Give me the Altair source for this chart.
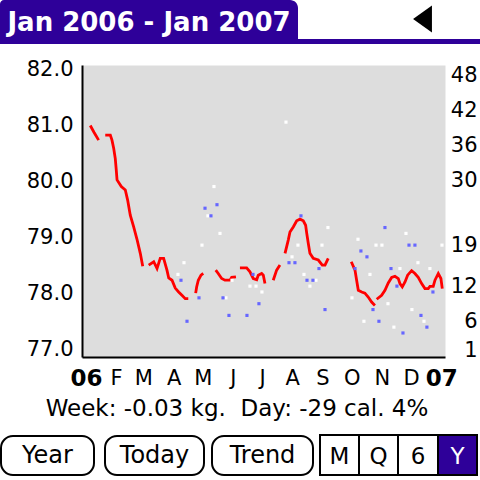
import altair as alt
import pandas as pd

FONT = "DejaVu Sans"
PURPLE = "#2E0099"
RED = "#FF0000"
BLUE = "#6666FF"
GRAY = "#DDDDDD"

# ---- weight trend (kg) by day of 2006, one list per unbroken run ----
run_days = [
    [4.4, 8.2, 13.0],
    [19.8, 25.0, 26.7, 28.5, 30.1, 31.1, 31.9, 36.3, 40.4, 42.8, 45.5, 49.0, 52.4, 55.8, 58.3],
    [64.4, 69.6, 73.0, 76.3, 79.8, 83.2, 85.0, 88.4, 91.7, 95.2, 98.6, 102.0, 105.1],
    [112.7, 113.7, 115.4, 118.2, 120.5],
    [133.3, 135.9, 139.4, 142.8, 148.0, 149.7, 154.1],
    [158.2, 165.1, 168.5, 171.9, 175.4, 177.0, 180.5, 182.2, 183.9],
    [192.4, 195.9, 199.3],
    [204.5, 207.9, 209.6, 213.0, 216.5, 219.9, 223.3, 225.7, 226.8, 228.4, 230.1, 233.5, 238.7, 242.8, 245.6, 248.9],
    [272.6, 276.4, 278.1, 279.8, 283.3, 286.6, 290.0, 293.5, 296.9],
    [298.7, 303.8, 307.2, 310.6, 314.1, 317.5, 320.9, 322.6, 325.0, 327.8, 330.5, 334.6, 338.0, 341.4,
     344.9, 348.3, 351.7, 353.4, 356.8, 358.6, 362.0, 364.7, 366.1],
]
run_kg = [
    [81.00, 80.88, 80.74],
    [80.83, 80.83, 80.74, 80.59, 80.41, 80.21, 80.03, 79.91, 79.85, 79.67, 79.40, 79.19, 78.97, 78.72, 78.49],
    [78.51, 78.57, 78.45, 78.63, 78.63, 78.42, 78.28, 78.24, 78.10, 78.03, 77.97, 77.91, 77.91],
    [78.01, 78.12, 78.24, 78.33, 78.36],
    [78.42, 78.36, 78.27, 78.24, 78.24, 78.29, 78.30],
    [78.46, 78.46, 78.39, 78.27, 78.25, 78.33, 78.36, 78.33, 78.18],
    [78.24, 78.42, 78.51],
    [78.72, 78.96, 79.10, 79.19, 79.30, 79.33, 79.30, 79.22, 79.08, 78.90, 78.72, 78.63, 78.60, 78.51, 78.51, 78.63],
    [78.57, 78.42, 78.24, 78.06, 78.03, 78.01, 77.94, 77.85, 77.79],
    [77.90, 77.97, 78.06, 78.19, 78.29, 78.31, 78.27, 78.18, 78.12, 78.21, 78.33, 78.41, 78.36, 78.29,
     78.18, 78.09, 78.09, 78.13, 78.13, 78.24, 78.36, 78.27, 78.09],
]

# ---- daily readings on the right-hand scale ----
white_day = [94.5, 100.7, 119.2, 125.3, 131.5, 137.7, 143.8, 150.0, 168.5, 174.7, 180.8, 205.5, 211.7,
             217.8, 224.0, 230.1, 236.3, 242.5, 248.6, 273.3, 279.5, 285.6, 291.8, 298.0, 304.1, 310.3,
             316.4, 322.6, 328.8, 334.9, 341.1, 347.3, 353.4, 365.8]
white_val = [14, 16, 19, 24, 29, 21, 10, 13, 12, 12, 11, 40, 17,
             19, 14, 12, 13, 19, 22, 10, 20, 6, 14, 19, 19, 9,
             5, 15, 21, 8, 16, 6, 15, 19]
blue_day = [97.6, 103.8, 116.1, 122.3, 128.4, 134.6, 140.8, 146.9, 165.4, 171.6, 177.7, 208.6, 214.7,
            220.9, 227.1, 233.2, 239.4, 245.6, 276.4, 282.5, 288.7, 294.9, 301.0, 307.2, 313.4, 319.5,
            325.7, 331.9, 338.0, 344.2, 350.3, 356.5]
blue_val = [13, 6, 10, 25.3, 24, 25.9, 10, 7, 7, 14, 9, 16, 16,
            24, 13, 13, 15, 8, 15, 18, 17, 8, 6, 22, 15, 12,
            4, 19, 19, 7, 5, 11]

# ---- axis labels ----
month_days = [0, 31, 59, 90, 120, 151, 181, 212, 243, 273, 304, 334, 365]
month_names = ["06", "F", "M", "A", "M", "J", "J", "A", "S", "O", "N", "D", "07"]
kg_ticks = [77, 78, 79, 80, 81, 82]
right_ticks = [48, 42, 36, 30, 19, 12, 6, 1]

# ---- screen text ----
header_text = "Jan 2006 - Jan 2007"
status_text = "Week: -0.03 kg.\u00a0\u00a0Day: -29 cal. 4%"
button_names = ["Year", "Today", "Trend"]
range_names = ["M", "Q", "6", "Y"]

# ---------------------------------------------------------------------------
trend_df = pd.DataFrame(
    [{"day": d, "kg": k, "run": i}
     for i, (ds, ks) in enumerate(zip(run_days, run_kg))
     for d, k in zip(ds, ks)]
)
dots_df = pd.concat([
    pd.DataFrame({"day": white_day, "val": white_val, "kind": "white"}),
    pd.DataFrame({"day": blue_day, "val": blue_val, "kind": "blue"}),
])

# plot area placement on the 480x480 screen
LEFT, TOP, W, H = 82, 65, 363, 292


def sx(x):
    return x - LEFT


def sy(y):
    return y - TOP


x_scale = alt.Scale(domain=[-4.1, 368.9], nice=False, zero=False)
kg_scale = alt.Scale(domain=[76.87, 82.08], nice=False, zero=False)
val_scale = alt.Scale(domain=[-0.1, 49.75], nice=False, zero=False)

names_js = "[" + ",".join("'%s'" % m for m in month_names) + "]"
days_js = "[" + ",".join(str(d) for d in month_days) + "]"
year_test = "datum.value == 0 || datum.value == 365"


def month_axis():
    return alt.Axis(
        values=month_days,
        labelExpr=f"{names_js}[indexof({days_js}, datum.value)]",
        ticks=False, grid=False, title=None,
        domainColor="black", domainWidth=2,
        labelFont=FONT, labelColor="black", labelPadding=10,
        labelFontSize={"condition": {"test": year_test, "value": 23}, "value": 21},
        labelFontWeight={"condition": {"test": year_test, "value": "bold"}, "value": "normal"},
        labelOverlap=False, labelFlush=False, labelAngle=0, labelSeparation=0,
    )


kg_axis = alt.Axis(
    orient="left", values=kg_ticks, format=".1f",
    ticks=False, grid=False, title=None,
    domainColor="black", domainWidth=2,
    labelFont=FONT, labelFontSize=21, labelColor="black", labelPadding=9,
    labelOverlap=False, labelFlush=False,
)
val_axis = alt.Axis(
    orient="right", values=right_ticks,
    ticks=False, grid=False, domain=False, title=None,
    labelFont=FONT, labelFontSize=21, labelColor="black",
    labelAlign="right", labelPadding=32,
    labelOverlap=False, labelFlush=False,
)

line = alt.Chart(trend_df).mark_line(color=RED, strokeWidth=2.8).encode(
    x=alt.X("day:Q", scale=x_scale, axis=month_axis()),
    y=alt.Y("kg:Q", scale=kg_scale, axis=kg_axis),
    detail="run:N",
)

dots = alt.Chart(dots_df).mark_square(size=10, opacity=1).encode(
    x=alt.X("day:Q", scale=x_scale, axis=month_axis()),
    y=alt.Y("val:Q", scale=val_scale, axis=val_axis),
    color=alt.Color("kind:N", scale=alt.Scale(domain=["white", "blue"], range=["#FFFFFF", BLUE]),
                    legend=None),
)


# ---- screen furniture, placed in pixels ----
def box(x0, y0, x1, y1, **mark):
    df = pd.DataFrame({"x0": [sx(x0)], "x1": [sx(x1)], "y0": [sy(y0)], "y1": [sy(y1)]})
    return alt.Chart(df).mark_rect(**mark).encode(
        x=alt.X("x0:Q", scale=None), x2="x1:Q",
        y=alt.Y("y0:Q", scale=None), y2="y1:Q",
    )


def vline(x, y0, y1, **mark):
    df = pd.DataFrame({"x": [sx(x)], "y0": [sy(y0)], "y1": [sy(y1)]})
    return alt.Chart(df).mark_rule(**mark).encode(
        x=alt.X("x:Q", scale=None), y=alt.Y("y0:Q", scale=None), y2="y1:Q",
    )


def label(text, x, y, **mark):
    df = pd.DataFrame({"t": [text], "x": [sx(x)], "y": [sy(y)]})
    return alt.Chart(df).mark_text(**mark).encode(
        x=alt.X("x:Q", scale=None), y=alt.Y("y:Q", scale=None), text="t:N",
    )


deco = []
# header tab and rule
deco.append(box(0, 39, 480, 44, fill=PURPLE))
deco.append(box(0, 0, 298, 44, fill=PURPLE, cornerRadiusTopRight=8, cornerRadiusTopLeft=4))
deco.append(label(header_text, 149, 31, font=FONT, fontSize=26, fontWeight="bold", color="white",
                  align="center", baseline="alphabetic"))
# back arrow
arrow_df = pd.DataFrame({"x": [sx(422.5)], "y": [sy(19)]})
deco.append(alt.Chart(arrow_df).mark_point(
    shape="M 0.7 -1 L -0.7 0 L 0.7 1 Z", size=729, filled=True, fill="black", opacity=1, strokeWidth=0
).encode(x=alt.X("x:Q", scale=None), y=alt.Y("y:Q", scale=None)))

# status line
deco.append(label(status_text, 237, 416, font=FONT, fontSize=23, color="black",
                  align="center", baseline="alphabetic"))

# push buttons
for name, (x0, x1) in zip(button_names, [(1, 94), (105, 204), (212, 313)]):
    deco.append(box(x0, 436, x1, 475, fill="white", stroke="black", strokeWidth=2, cornerRadius=12))
    deco.append(label(name, (x0 + x1) / 2, 463, font=FONT, fontSize=24, color="black",
                      align="center", baseline="alphabetic"))

# range selector
deco.append(box(320, 435, 477, 475, fill="white", stroke="black", strokeWidth=2))
deco.append(box(438, 436, 476, 474, fill=PURPLE))
for xd in (359, 398, 438):
    deco.append(vline(xd, 435, 475, color="black", strokeWidth=2))
for name, xc in zip(range_names, [339.5, 378.5, 418, 457.5]):
    deco.append(label(name, xc, 464, font=FONT, fontSize=23, color="white" if name == "Y" else "black",
                      align="center", baseline="alphabetic"))

chart = alt.layer(line, dots, *deco).resolve_scale(y="independent").properties(
    width=W, height=H,
    autosize=alt.AutoSizeParams(type="none"),
    padding={"left": LEFT, "top": TOP, "right": 480 - LEFT - W, "bottom": 480 - TOP - H},
    background="white",
).configure_view(fill=GRAY, stroke="transparent").configure_axis(labelOverlap=False)

chart.save("out.html", embed_options={"renderer": "svg", "actions": False})
